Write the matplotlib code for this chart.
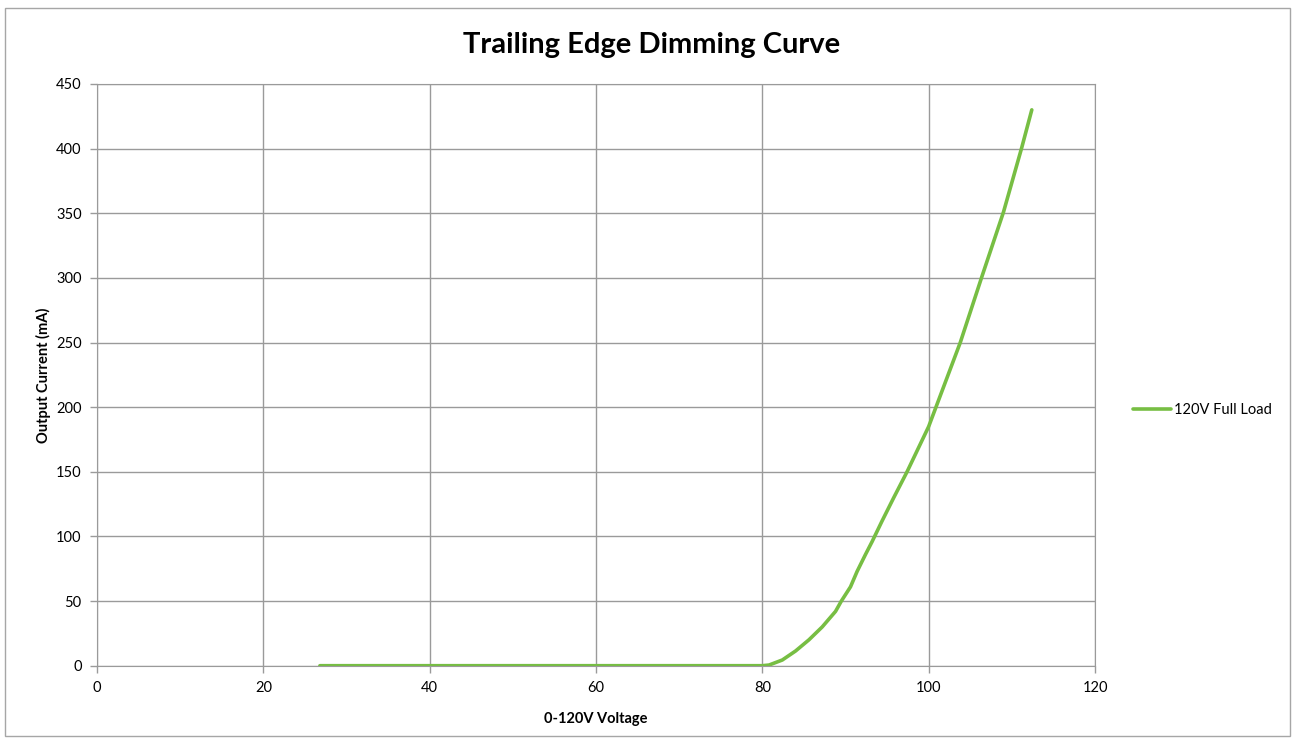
import matplotlib
matplotlib.use("Agg")
import matplotlib.pyplot as plt
from matplotlib.patches import Rectangle

voltage = [26.8, 40, 60, 80.0, 80.8, 82.4, 84.0, 85.6, 87.2, 88.8, 89.5, 90.6, 91.4, 92.4, 93.2,
           94.4, 95.8, 97.4, 100.0, 103.8, 106.4, 109.0, 111.2, 112.4]
current = [0, 0, 0, 0, 0.5, 4.4, 11.4, 20, 30, 42, 50, 61, 73, 86, 96,
           112, 130, 150, 185, 250, 301, 351, 401, 430]
series_name = "120V Full Load"
x_ticks = [0, 20, 40, 60, 80, 100, 120]
y_ticks = [0, 50, 100, 150, 200, 250, 300, 350, 400, 450]

plt.rcParams['font.family'] = ['Lato', 'DejaVu Sans']
W, H = 1297, 744
fig = plt.figure(figsize=(W/100, H/100), dpi=100)
fig.patches.append(Rectangle((5/W, 8/H), (1290-5)/W, (736-8)/H, transform=fig.transFigure,
                             fill=False, edgecolor='#a6a6a6', linewidth=1))

ax = fig.add_axes([97/W, 1-665.7/H, (1095-97)/W, (665.7-84)/H])
ax.plot(voltage, current, color='#77BE43', linewidth=2.6, label=series_name,
        solid_capstyle='round', solid_joinstyle='round')
ax.set_xlim(0, 120)
ax.set_ylim(0, 450)
ax.set_xticks(x_ticks)
ax.set_yticks(y_ticks)
ax.grid(True, color='#9a9a9a', linewidth=1)
ax.set_axisbelow(True)
for s in ax.spines.values():
    s.set_color('#9a9a9a')
ax.tick_params(axis='both', colors='#9a9a9a', labelcolor='black', labelsize=10.5, length=5, width=1)
ax.tick_params(axis='x', pad=6)
ax.tick_params(axis='y', pad=6)
ax.set_xlabel("0-120V Voltage", fontsize=10.5, fontweight='bold', labelpad=12)
ax.set_ylabel("Output Current (mA)", fontsize=10.5, fontweight='bold', labelpad=4)
fig.text(652/W, 1-45/H, "Trailing Edge Dimming Curve", fontsize=21, fontweight='bold',
         ha='center', va='center')
leg = ax.legend(loc='center left', bbox_to_anchor=(1.025, 0.44), frameon=False,
                fontsize=10.5, handlelength=2.6, handletextpad=0.2)
fig.savefig("out.png", dpi=100)
